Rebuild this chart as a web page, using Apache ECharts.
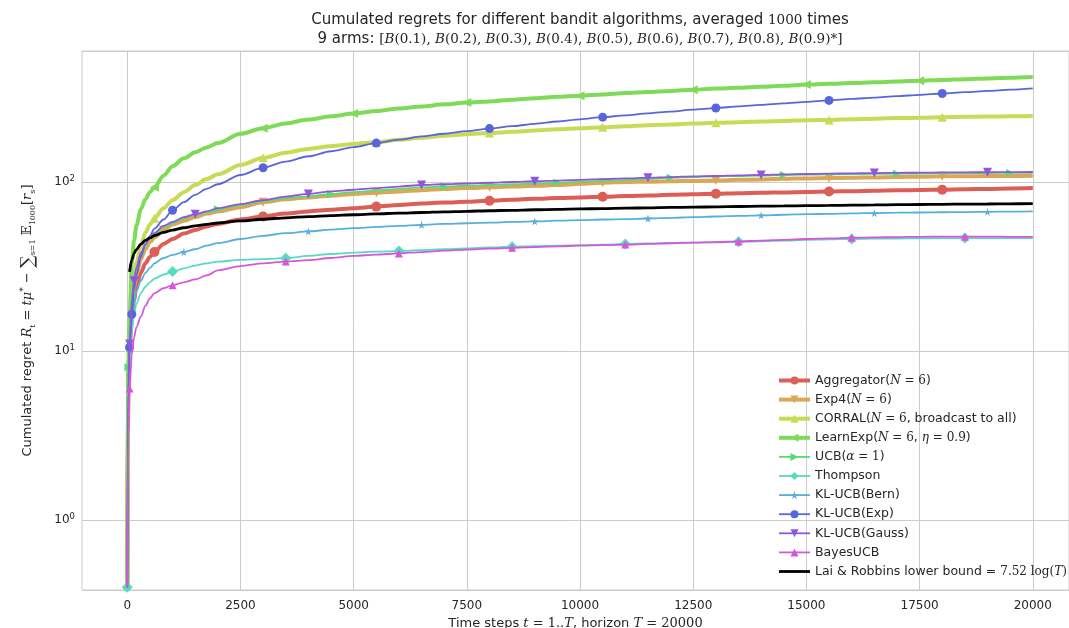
<!DOCTYPE html>
<html>
<head>
<meta charset="utf-8">
<script src="https://cdn.jsdelivr.net/npm/echarts@6/dist/echarts.min.js"></script>
<style>html,body{margin:0;padding:0;background:#fff}#c{width:1069px;height:628px}</style>
</head>
<body>
<div id="c"></div>
<script>
// ---- data ----
const T = [0,25,50,100,150,200,300,400,500,600,800,1000,1250,1500,1750,2000,
  2500,3000,3500,4000,4500,5000,5500,6000,6500,7000,7500,8000,8500,9000,9500,10000,
  10500,11000,11500,12000,12500,13000,13500,14000,14500,15000,15500,16000,16500,17000,
  17500,18000,18500,19000,19500,20000];
const xTicks = [0,2500,5000,7500,10000,12500,15000,17500,20000];
const arms = ['0.1','0.2','0.3','0.4','0.5','0.6','0.7','0.8','0.9'];

const aggregator = [0.4,6,10,16,20,24,29,33,36,38.5,43,46,49.5,52,54.5,56.5,
  60,62.5,65,67,68.5,70,71.5,73,74.5,75.5,76.5,77.5,78.5,79.5,80.3,81,81.8,82.5,83.2,84,
  84.6,85.2,85.8,86.3,86.8,87.3,87.8,88.3,88.8,89.3,89.7,90.1,90.6,91,91.5,92];
const exp4 = [0.4,7,11,18,24,28,35,40,44,47,52,56,59,62,65,67,
  71,76,79,81,83,85,86.5,88,89.5,91,92,93,94,95,96,97.5,99,100,100.5,101,
  101.5,102,103,103.5,104.5,105,105.5,106,106.5,107,107.5,108,108.2,108.4,108.6,108.8];
const corral = [0.4,7,12,20,27,33,42,50,56,61,70,78,87,96,104,111,
  126,139,149,157,163,168,172,178,183,188,192,195,198,202,205,208,211,214,217,219,
  222,224,226,228,230,232,233,235,237,239,240,242,243,244,245,246];
const learnExp = [0.4,9,16,33,45,55,69,79,87,93,109,124,138,150,160,170,
  193,208,222,234,245,254,263,272,280,288,295,300,307,313,319,324,330,336,341,346,
  352,357,361,366,371,377,381,385,389,393,398,402,406,410,414,418];
const ucb = [0.4,8,13,21,27,31,37,42,46,49,54,57,61,64,66,69,
  73,77,80,82,85,87,89,91,93,94,95,96,97,98,99,100.5,101.5,103,104.5,106,
  107,108,108.5,109,110,110.5,111,111.3,111.6,112,112.3,112.6,112.8,113,113.2,113.4];
const thompson = [0.4,5,8.5,13,16.5,19,22,24,25.5,26.8,28.3,29.5,30.8,32,33,33.8,
  34.6,35,35.4,36.5,37.5,38.2,38.7,39,39.5,40,40.5,41,41.4,41.7,42,42.3,42.6,43,43.3,43.6,
  43.8,44,44.3,44.6,45,45.4,45.7,46,46.2,46.3,46.4,46.5,46.6,46.6,46.6,46.6];
const klBern = [0.4,6,10,15,19,22.5,26,29,31,33,35.5,37,38.5,40,42,43.5,
  46,48,49.8,51,52.3,53.3,54.2,55,55.8,56.5,57,57.5,58,58.5,59,59.5,60,60.3,60.8,61.3,
  62,62.5,63,63.5,64,64.5,64.8,65.2,65.5,65.8,66,66.2,66.4,66.6,66.8,67];
const klExp = [0.4,6,10.5,16.5,23,28,36,43,48,53,60,68,76,84,91,97,
  110,121.5,132,142,152,161,170,178,186,193,200,207,214,221,228,235,242,248,255,261,
  268,274,280,286,292,298,304,310,316,322,328,334,340,346,352,358];
const klGauss = [0.4,7,11,20,26,31,38,43,47,50,55,58,62,64.5,67,70,
  74,78,82,85,88,90,92,94,96,97,98,99,100,101,102,103,104,105,106,107,
  108,108.5,109.5,110,111,111.5,112,112.5,113,113.3,113.6,113.9,114.1,114.3,114.5,114.6];
const bayesUcb = [0.4,3,6,9.5,12,13.8,16,18.5,20.5,22,23.5,24.5,25.5,26.5,28,30,
  31.8,33,33.8,34.5,35.5,36.5,37.2,37.8,38.5,39.2,39.8,40.3,40.8,41.2,41.6,42,42.3,42.6,43,43.4,
  43.8,44.1,44.5,45,45.5,46,46.4,46.8,47,47.2,47.4,47.5,47.5,47.5,47.4,47.4];
const lowerBound = [null,null,29.4,34.6,37.7,39.8,42.9,45.1,46.7,48.1,50.3,51.9,53.6,55.0,56.1,57.2,
  58.8,60.2,61.4,62.4,63.3,64.0,64.8,65.4,66.0,66.6,67.1,67.6,68.0,68.5,68.9,69.3,69.6,70.0,70.3,70.7,
  71.0,71.3,71.6,71.9,72.2,72.4,72.7,72.9,73.2,73.4,73.6,73.8,74.0,74.1,74.3,74.5];

// marker positions (time steps) for each curve
const mAggregator = [600,3000,5500,8000,10500,13000,15500,18000];
const mExp4 = [800,3000,5500,8000,10500,13000,15500,18000];
const mCorral = [600,3000,5500,8000,10500,13000,15500,18000];
const mLearnExp = [600,3000,5000,7500,10000,12500,15000,17500];
const mUcb = [25,2000,4500,7000,9500,12000,14500,17000,19500];
const mThompson = [0,1000,3500,6000,8500,11000,13500,16000,18500];
const mKlBern = [1250,4000,6500,9000,11500,14000,16500,19000];
const mKlExp = [50,100,1000,3000,5500,8000,10500,13000,15500,18000];
const mKlGauss = [50,150,1500,4000,6500,9000,11500,14000,16500,19000];
const mBayesUcb = [50,1000,3500,6000,8500,11000,13500,16000,18500];

const names = ['Aggregator(N=6)','Exp4(N=6)','CORRAL(N=6, broadcast to all)','LearnExp(N=6, eta=0.9)',
  'UCB(alpha=1)','Thompson','KL-UCB(Bern)','KL-UCB(Exp)','KL-UCB(Gauss)','BayesUCB',
  'Lai & Robbins lower bound = 7.52 log(T)'];
const legendLabels = [
  '{t|Aggregator(}{i|N}{r| = 6}{t|)}',
  '{t|Exp4(}{i|N}{r| = 6}{t|)}',
  '{t|CORRAL(}{i|N}{r| = 6}{t|, broadcast to all)}',
  '{t|LearnExp(}{i|N}{r| = 6}{t|, }{i|η}{r| = 0.9}{t|)}',
  '{t|UCB(}{i|α}{r| = 1}{t|)}',
  '{t|Thompson}','{t|KL-UCB(Bern)}','{t|KL-UCB(Exp)}','{t|KL-UCB(Gauss)}','{t|BayesUCB}',
  '{t|Lai & Robbins lower bound = }{r|7.52 log(}{i|T}{r|)}'
];

// ---- styles ----
const colors = ['#db5f57','#dba757','#c7db57','#7fdb57','#57db77','#57dbbf','#57afdb','#5767db','#8f57db','#d757db','#000000'];
const STAR = 'path://M50,0 L61,35 L98,35 L68,57 L79,91 L50,70 L21,91 L32,57 L2,35 L39,35 Z';
const txt = '#262626';
const richLegend = {
  t: {fontFamily: 'DejaVu Sans', fontSize: 12.5, color: txt, lineHeight: 15},
  i: {fontFamily: 'DejaVu Serif', fontStyle: 'italic', fontSize: 12, color: txt, lineHeight: 15},
  r: {fontFamily: 'DejaVu Serif', fontSize: 12, color: txt, lineHeight: 15}
};

function build(vals, marks) {
  return T.map((t, i) => ({
    value: [t, vals[i] == null ? null : vals[i]],
    symbol: marks && marks.indexOf(t) >= 0 ? undefined : 'none'
  }));
}
const specs = [
  [aggregator, mAggregator, 'circle', 10, 0, 4],
  [exp4, mExp4, 'triangle', 9, 180, 4],
  [corral, mCorral, 'triangle', 9, 0, 4],
  [learnExp, mLearnExp, 'triangle', 9, 90, 4],
  [ucb, mUcb, 'triangle', 8, -90, 1.8],
  [thompson, mThompson, 'diamond', 11, 0, 1.8],
  [klBern, mKlBern, STAR, 8, 0, 1.8],
  [klExp, mKlExp, 'circle', 9, 0, 1.8],
  [klGauss, mKlGauss, 'triangle', 9, 180, 1.8],
  [bayesUcb, mBayesUcb, 'triangle', 8, 0, 1.8],
  [lowerBound, null, 'none', 0, 0, 2.8]
];
const series = specs.map((s, k) => ({
  name: names[k],
  type: 'line',
  data: build(s[0], s[1]),
  symbol: s[2],
  symbolSize: s[3],
  symbolRotate: s[4],
  showSymbol: true,
  showAllSymbol: true,
  smooth: 0.3,
  smoothMonotone: 'x',
  connectNulls: false,
  color: colors[k],
  lineStyle: {width: s[5], color: colors[k]},
  itemStyle: {color: colors[k]},
  emphasis: {disabled: true},
  z: 2 + k
}));

const titleLine1 = '{t|Cumulated regrets for different bandit algorithms, averaged }{r|1000}{t| times}';
const titleLine2 = '{t|9 arms: }{r|[}' + arms.map((a, i) => '{i|B}{r|(' + a + ')' + (i < arms.length - 1 ? ', ' : '') + '}').join('') + '{r|*]}';
const richTitle = {
  t: {fontFamily: 'DejaVu Sans', fontSize: 15, color: txt},
  i: {fontFamily: 'DejaVu Serif', fontStyle: 'italic', fontSize: 13.5, color: txt},
  r: {fontFamily: 'DejaVu Serif', fontSize: 13.5, color: txt}
};
const rich13 = {
  t: {fontFamily: 'DejaVu Sans', fontSize: 13, color: txt},
  i: {fontFamily: 'DejaVu Serif', fontStyle: 'italic', fontSize: 13, color: txt},
  r: {fontFamily: 'DejaVu Serif', fontSize: 13, color: txt}
};

const legendData = names.map((n, k) => k === names.length - 1
  ? {name: n, itemStyle: {opacity: 0}}
  : {name: n});

const chart = echarts.init(document.getElementById('c'), null, {renderer: 'canvas'});
chart.setOption({
  animation: false,
  backgroundColor: '#ffffff',
  title: [
    {text: titleLine1, left: 580, top: 13, textAlign: 'center', padding: 0, textStyle: {rich: richTitle, fontSize: 15, fontWeight: 'normal'}},
    {text: titleLine2, left: 580, top: 32, textAlign: 'center', padding: 0, textStyle: {rich: richTitle, fontSize: 15, fontWeight: 'normal'}}
  ],
  grid: {left: 82, top: 51, right: 0, bottom: 38, outerBoundsMode: 'none', containLabel: false,
    show: true, borderColor: '#cccccc', borderWidth: 1, backgroundColor: 'transparent'},
  legend: {
    orient: 'vertical', left: 777, top: 374, padding: 0, itemWidth: 31, itemHeight: 10, itemGap: 6.1,
    data: legendData, formatter: n => legendLabels[names.indexOf(n)],
    lineStyle: {width: 'inherit'},
    textStyle: {rich: richLegend, color: txt}, selectedMode: false
  },
  xAxis: {
    type: 'value', min: -1000, max: 20800,
    name: '{t|Time steps }{i|t}{r| = 1..}{i|T}{t|, horizon }{i|T}{r| = 20000}',
    nameLocation: 'middle', nameGap: 22,
    nameTextStyle: {rich: rich13},
    axisLine: {show: false},
    axisTick: {show: false, customValues: xTicks},
    axisLabel: {customValues: xTicks, color: txt, fontSize: 12, fontFamily: 'DejaVu Sans', margin: 10,
      formatter: v => String(v)},
    splitLine: {show: true, lineStyle: {color: '#cccccc', width: 1}}
  },
  yAxis: {
    type: 'log', logBase: 10, min: 0.385, max: 596,
    name: '{t|Cumulated regret }{i|R}{sb|t}{r| = }{i|tμ}{sp|*}{r| − }{big|∑}{sb|s=1}{r| 𝔼}{sb|1000}{r|[}{i|r}{sb|s}{r|]}',
    nameLocation: 'middle', nameGap: 45,
    nameTextStyle: {rich: Object.assign({}, rich13, {
      sb: {fontFamily: 'DejaVu Serif', fontSize: 8, color: txt, verticalAlign: 'bottom', lineHeight: 18},
      sp: {fontFamily: 'DejaVu Serif', fontSize: 9, color: txt, verticalAlign: 'top', lineHeight: 18},
      big: {fontFamily: 'DejaVu Serif', fontSize: 18, color: txt}
    })},
    axisLine: {show: false},
    axisTick: {show: false},
    axisLabel: {
      color: txt, margin: 7, showMinLabel: false, showMaxLabel: false,
      formatter: v => {
        const e = Math.round(Math.log10(v));
        if (Math.abs(Math.log10(v) - e) > 1e-6) return '';
        return '{b|10}{e|' + e + '}';
      },
      rich: {
        b: {fontFamily: 'DejaVu Sans', fontSize: 12, color: txt, lineHeight: 16},
        e: {fontFamily: 'DejaVu Sans', fontSize: 8.5, color: txt, verticalAlign: 'top', lineHeight: 16}
      }
    },
    splitLine: {show: true, lineStyle: {color: '#cccccc', width: 1}},
    minorTick: {show: false},
    minorSplitLine: {show: false}
  },
  series: series
});
</script>
</body>
</html>
